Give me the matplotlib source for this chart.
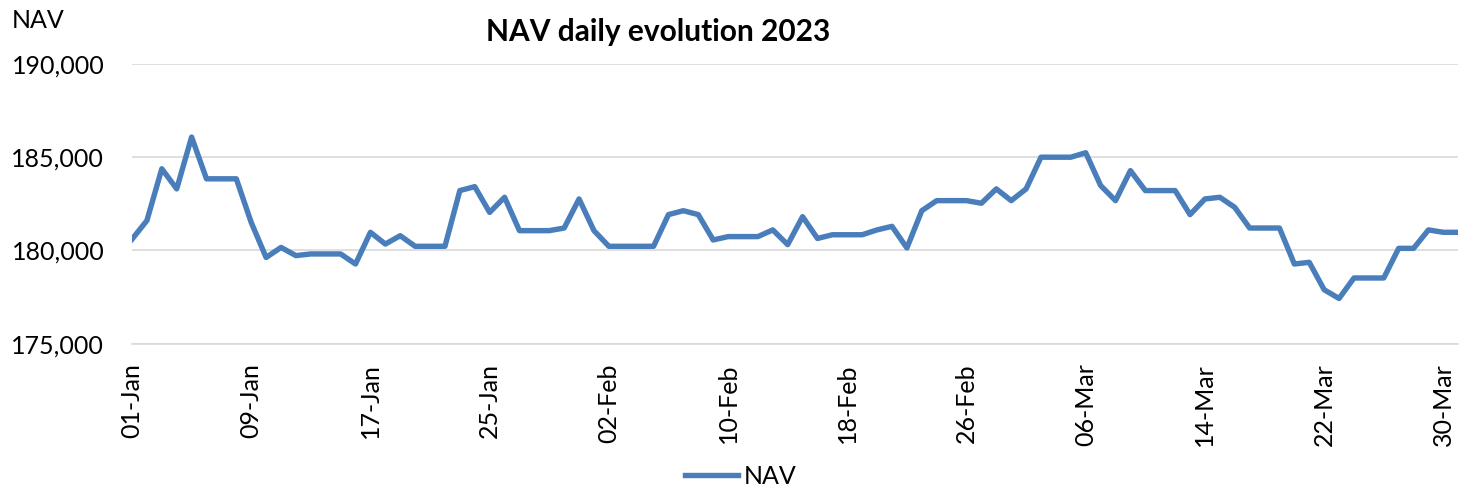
import numpy as np
import pandas as pd
import matplotlib
matplotlib.use("Agg")
import matplotlib.pyplot as plt
import matplotlib.dates as mdates
from matplotlib.ticker import FuncFormatter

# daily NAV, 01-Jan to 31-Mar 2023
dates = pd.date_range("2023-01-01", "2023-03-31", freq="D")
nav = [
    180600, 181600, 184380, 183300, 186080, 183840, 183840, 183840, 181500, 179620,
    180160, 179720, 179810, 179810, 179810, 179270, 180970, 180340, 180790, 180220,
    180220, 180220, 183210, 183420, 182040, 182850, 181060, 181060, 181060, 181200,
    182760, 181060, 180220, 180220, 180220, 180220, 181920, 182130, 181920, 180560,
    180740, 180740, 180740, 181100, 180310, 181810, 180640, 180840, 180840, 180840,
    181100, 181290, 180130, 182130, 182670, 182670, 182670, 182530, 183300, 182670,
    183300, 185000, 185000, 185000, 185240, 183480, 182670, 184280, 183210, 183210,
    183210, 181920, 182760, 182850, 182310, 181200, 181200, 181200, 179270, 179360,
    177890, 177420, 178520, 178520, 178520, 180110, 180110, 181100, 180970, 180970,
]
y_ticks = [175000, 180000, 185000, 190000]

LINE = "#4A7EBB"
GRID = "#D9D9D9"
FONT = "Lato"

plt.rcParams["font.family"] = [FONT, "DejaVu Sans"]

fig = plt.figure(figsize=(14.59, 4.88), dpi=100)
ax = fig.add_axes([132 / 1459, 1 - 343.6 / 488, 1 - 132 / 1459 - 0.0005, (343.6 - 64) / 488])

ax.plot(dates, nav, color=LINE, lw=3.9, solid_joinstyle="round", label="NAV", zorder=3)

ax.set_xlim(dates[0], dates[-1])
ax.set_ylim(y_ticks[0], y_ticks[-1])
ax.set_yticks(y_ticks)
ax.yaxis.set_major_formatter(FuncFormatter(lambda v, _: f"{v:,.0f}"))
ax.set_xticks(dates[::8])
ax.xaxis.set_major_formatter(mdates.DateFormatter("%d-%b"))

ax.grid(axis="y", color=GRID, lw=1.2, zorder=0)
for s in ["top", "right", "left"]:
    ax.spines[s].set_visible(False)
ax.spines["bottom"].set_color(GRID)
ax.spines["bottom"].set_linewidth(1.2)
ax.tick_params(axis="both", length=0, labelsize=18, colors="black")
ax.tick_params(axis="y", pad=20)
ax.tick_params(axis="x", pad=14)
plt.setp(ax.get_xticklabels(), rotation=90, ha="center", va="top")

fig.text(658 / 1459, 1 - 32 / 488, "NAV daily evolution 2023", ha="center", va="center",
         fontsize=21.5, fontweight="bold")
fig.text(12 / 1459, 1 - 20 / 488, "NAV", ha="left", va="center", fontsize=18)

fig.legend(loc="center", bbox_to_anchor=(741 / 1459, 1 - 476 / 488), frameon=False,
           fontsize=18, handlelength=2.1, handletextpad=0.25)

fig.savefig("out.png", dpi=100)
